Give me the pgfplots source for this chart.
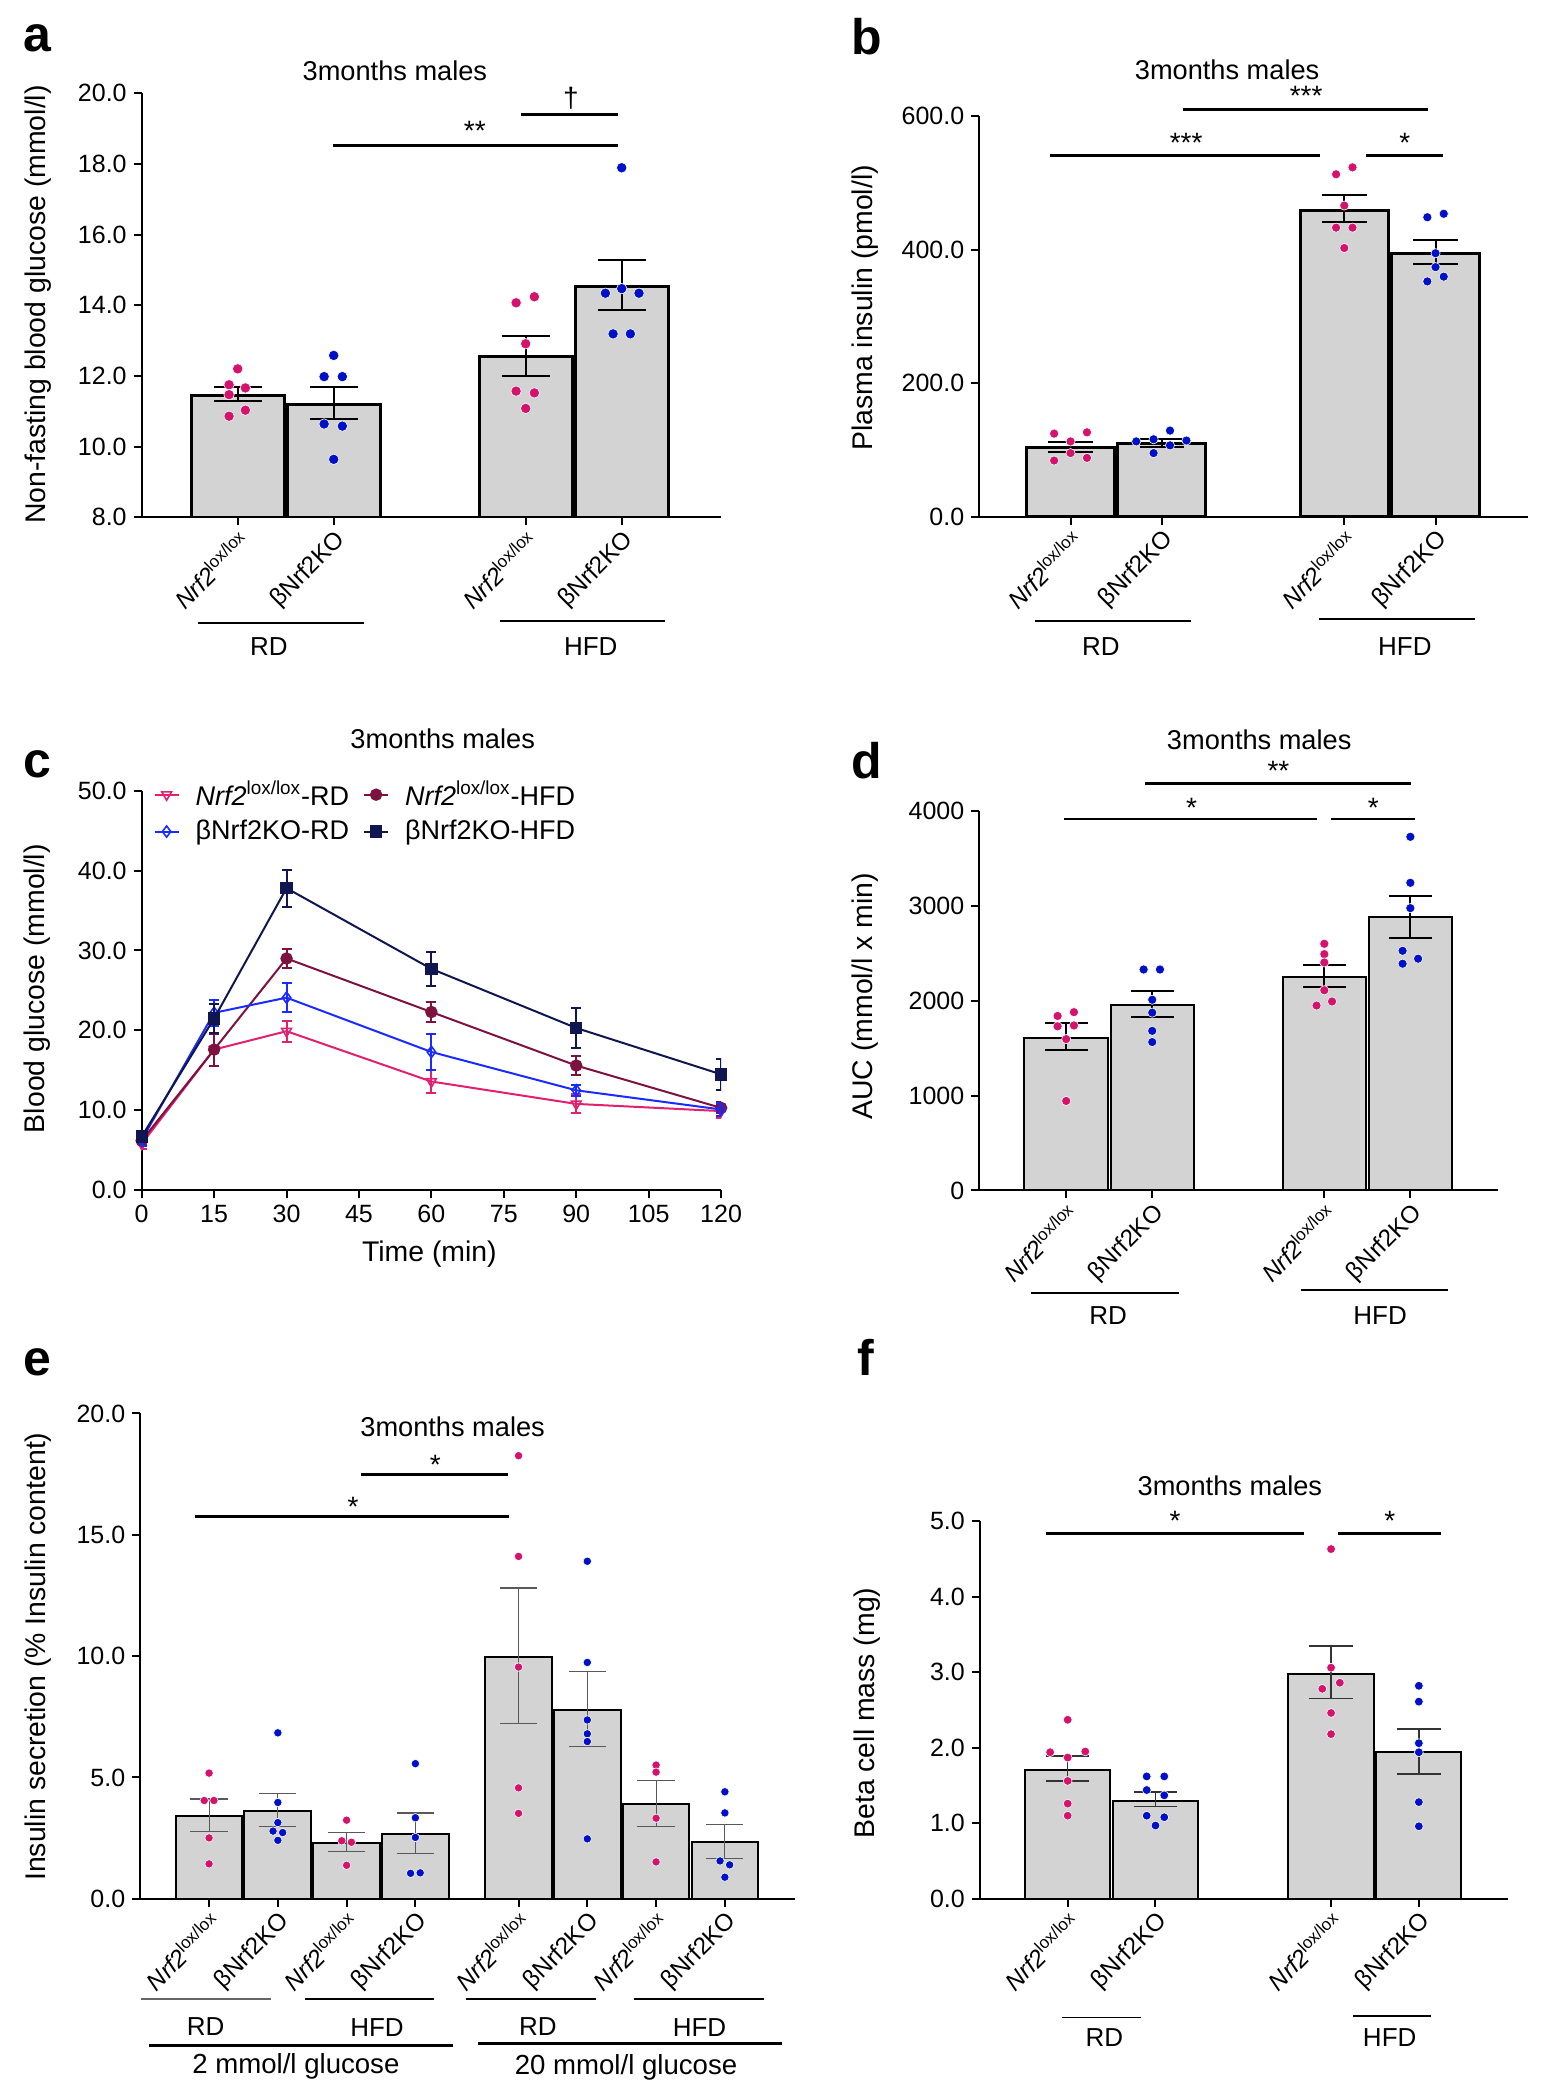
\documentclass[border=0pt]{standalone}
\usepackage{pgfplots}
\pgfplotsset{compat=1.18}
\usepackage{fontspec}
\setmainfont{Liberation Sans}
\definecolor{pinkdot}{HTML}{D5126C}
\definecolor{bluedot}{HTML}{0010C8}
\definecolor{barfill}{HTML}{D3D3D3}
\definecolor{cpink}{HTML}{E2206F}
\definecolor{cblue}{HTML}{1A2BFF}
\definecolor{cmaroon}{HTML}{7D1240}
\definecolor{cnavy}{HTML}{0F1650}
\newcommand{\ft}[1]{\fontsize{#1}{#1}\selectfont}
\newcommand{\nrf}{\textit{Nrf2}\textsuperscript{lox/lox}}
\newcommand{\ko}{βNrf2KO}
\pgfplotsset{
  panel/.style={
    scale only axis, anchor=south west,
    axis x line*=bottom, axis y line*=left,
    axis line style={line width=1pt, black},
    every tick/.style={black, line width=1pt},
    tick align=outside, major tick length=4pt,
    clip mode=individual,
    /pgf/number format/assume math mode=true,
    yticklabel style={font=\ft{12.5}},
    xticklabel style={font=\ft{12.5}},
  },
  catx/.style={xticklabel style={rotate=45, anchor=north east, font=\ft{12.1}, inner sep=1pt}},
  onedec/.style={yticklabel style={/pgf/number format/fixed, /pgf/number format/fixed zerofill, /pgf/number format/precision=1}},
  dots/.style={only marks, mark=*, mark size=#1, mark options={draw=white, line width=0.3pt}},
}
\begin{document}
\begin{tikzpicture}
\path[use as bounding box] (0,0) rectangle (774pt,1050pt);

% ---------------- panel a
\begin{axis}[panel, onedec, catx, at={(70.85pt,791.35pt)}, width=289.45pt, height=212.05pt,
  xmin=-1, xmax=5.03, ymin=8, ymax=20, ytick={8,10,...,20},
  xtick={0,1,3,4}, xticklabels={\nrf,\ko,\nrf,\ko}]
\addplot[ybar, bar shift=0pt, bar width=0.965, fill=barfill, draw=black, line width=1.5pt,
  error bars/.cd, y dir=both, y explicit,
  error bar style={line width=1pt, black, solid},
  error mark options={rotate=90, black, mark size=12.1pt, line width=1pt}]
coordinates {(0,11.45) += (0,0.24) -= (0,0.16) (1,11.19) += (0,0.50) -= (0,0.42)
  (3,12.54) += (0,0.59) -= (0,0.53) (4,14.54) += (0,0.74) -= (0,0.67)};
\addplot[dots=2.6pt, pinkdot] coordinates {
  (-0.09,11.75) (0.08,11.66) (-0.09,11.47) (0,12.2) (-0.09,10.86) (0.08,11.03)
  (2.90,14.07) (3.09,14.24) (3,12.91) (2.90,11.57) (3.09,11.52) (3,11.08)};
\addplot[dots=2.6pt, bluedot] coordinates {
  (1,12.58) (0.90,11.98) (1.09,11.98) (0.90,10.64) (1.09,10.58) (1,9.64)
  (4,17.89) (3.83,14.34) (4,14.47) (4.18,14.34) (3.91,13.19) (4.09,13.19)};
\end{axis}

% ---------------- panel b
\begin{axis}[panel, onedec, catx, at={(489.65pt,791.55pt)}, width=274.2pt, height=200.35pt,
  xmin=-1, xmax=5.01, ymin=0, ymax=600, ytick={0,200,400,600},
  xtick={0,1,3,4}, xticklabels={\nrf,\ko,\nrf,\ko}]
\addplot[ybar, bar shift=0pt, bar width=0.965, fill=barfill, draw=black, line width=1.5pt,
  error bars/.cd, y dir=both, y explicit,
  error bar style={line width=1pt, black, solid},
  error mark options={rotate=90, black, mark size=11.1pt, line width=1pt}]
coordinates {(0,103.2) += (0,9.1) -= (0,5.8) (1,110.4) += (0,5.8) -= (0,5.5)
  (3,459) += (0,22.8) -= (0,16.8) (4,394.8) += (0,20.2) -= (0,15.6)};
\addplot[dots=2.3pt, pinkdot] coordinates {
  (-0.18,124.7) (0.18,126.6) (0,113) (-0.18,84.4) (0.18,88.3) (0,95.5)
  (2.91,513) (3.09,523.4) (3,466.2) (2.91,433.1) (3.09,433.1) (3,402.6)};
\addplot[dots=2.3pt, bluedot] coordinates {
  (0.72,113) (0.91,116.2) (1.09,129.2) (1.27,114.3) (1.09,107.1) (0.91,95.5)
  (3.91,448.7) (4.09,453.9) (4,394.8) (4,374) (3.91,352.6) (4.09,359.7)};
\end{axis}

% ---------------- panel c
\begin{axis}[panel, onedec, at={(70.85pt,454.9pt)}, width=289.7pt, height=199.75pt,
  xmin=0, xmax=120, ymin=0, ymax=50, xtick={0,15,...,120}, ytick={0,10,...,50},
  legend columns=2, legend cell align=left,
  legend style={at={(0.02,1.035)}, anchor=north west, draw=none, fill=none, font=\ft{13.5},
    inner sep=0pt, row sep=2pt,
    /tikz/every odd column/.append style={column sep=6pt},
    /tikz/every even column/.append style={column sep=5pt}},
  legend image code/.code={\draw[mark repeat=2, mark phase=2] plot coordinates {(0cm,0cm) (0.21cm,0cm) (0.42cm,0cm)};}]
\addplot[cpink, line width=1pt, mark=triangle, mark size=2.8pt, mark options={rotate=180, fill=white, solid, line width=0.8pt},
  error bars/.cd, y dir=both, y explicit, error bar style={line width=1pt, cpink},
  error mark options={rotate=90, cpink, mark size=2.5pt, line width=1pt}]
coordinates {(0,5.8) +- (0,0.7) (15,17.6) +- (0,2.0) (30,19.9) +- (0,1.3) (60,13.6) +- (0,1.4) (90,10.8) +- (0,1.2) (120,9.9) +- (0,0.9)};
\addlegendentry{\nrf-RD}
\addplot[cmaroon, line width=1pt, mark=*, mark size=2.6pt, mark options={solid},
  error bars/.cd, y dir=both, y explicit, error bar style={line width=1pt, cmaroon},
  error mark options={rotate=90, cmaroon, mark size=2.5pt, line width=1pt}]
coordinates {(0,6.2) +- (0,0.6) (15,17.6) +- (0,2.0) (30,29.0) +- (0,1.2) (60,22.3) +- (0,1.2) (90,15.6) +- (0,1.2) (120,10.3) +- (0,0.7)};
\addlegendentry{\nrf-HFD}
\addplot[cblue, line width=1pt, mark=diamond, mark size=2.8pt, mark options={fill=white, solid, line width=0.8pt},
  error bars/.cd, y dir=both, y explicit, error bar style={line width=1pt, cblue},
  error mark options={rotate=90, cblue, mark size=2.5pt, line width=1pt}]
coordinates {(0,6.3) +- (0,0.8) (15,22.2) +- (0,1.6) (30,24.1) +- (0,1.8) (60,17.3) +- (0,2.3) (90,12.5) +- (0,0.7) (120,10.1) +- (0,0.8)};
\addlegendentry{\ko-RD}
\addplot[cnavy, line width=1pt, mark=square*, mark size=2.6pt, mark options={solid},
  error bars/.cd, y dir=both, y explicit, error bar style={line width=1pt, cnavy},
  error mark options={rotate=90, cnavy, mark size=2.5pt, line width=1pt}]
coordinates {(0,6.7) +- (0,0.6) (15,21.5) +- (0,1.8) (30,37.8) +- (0,2.3) (60,27.7) +- (0,2.1) (90,20.3) +- (0,2.5) (120,14.5) +- (0,1.9)};
\addlegendentry{\ko-HFD}
\end{axis}

% ---------------- panel d
\begin{axis}[panel, catx, at={(489.65pt,454.75pt)}, width=259.4pt, height=189.7pt,
  yticklabel style={/pgf/number format/fixed, /pgf/number format/1000 sep={}},
  xmin=-1.01, xmax=5.02, ymin=0, ymax=4000, ytick={0,1000,...,4000},
  xtick={0,1,3,4}, xticklabels={\nrf,\ko,\nrf,\ko}]
\addplot[ybar, bar shift=0pt, bar width=0.97, fill=barfill, draw=black, line width=1pt,
  error bars/.cd, y dir=both, y explicit,
  error bar style={line width=1pt, black, solid},
  error mark options={rotate=90, black, mark size=10.7pt, line width=1pt}]
coordinates {(0,1613) += (0,153) -= (0,135) (1,1954) += (0,144) -= (0,122)
  (3,2251) += (0,123) -= (0,105) (4,2881) += (0,227) -= (0,214)};
\addplot[dots=2.3pt, pinkdot] coordinates {
  (-0.1,1840) (0.09,1880) (-0.1,1731) (0.09,1740) (0,1596) (0,944)
  (3,2601) (3,2492) (3,2404) (3,2111) (2.91,1950) (3.09,1993)};
\addplot[dots=2.3pt, bluedot] coordinates {
  (0.9,2330) (1.09,2330) (1,2011) (1,1875) (1,1683) (1,1565)
  (4,3729) (4,3244) (4,2977) (3.91,2527) (4.09,2444) (3.91,2391)};
\end{axis}

% ---------------- panel e
\begin{axis}[panel, onedec, catx, at={(70.15pt,100.6pt)}, width=327.35pt, height=242.65pt,
  xmin=-1, xmax=8.52, ymin=0, ymax=20, ytick={0,5,...,20},
  xtick={0,1,2,3,4.5,5.5,6.5,7.5}, xticklabels={\nrf,\ko,\nrf,\ko,\nrf,\ko,\nrf,\ko}]
\addplot[ybar, bar shift=0pt, bar width=0.97, fill=barfill, draw=black, line width=1pt,
  error bars/.cd, y dir=both, y explicit,
  error bar style={line width=0.5pt, black!65},
  error mark options={rotate=90, black!65, mark size=9.3pt, line width=0.6pt}]
coordinates {(0,3.40) += (0,0.71) -= (0,0.61) (1,3.60) += (0,0.73) -= (0,0.62)
  (2,2.31) += (0,0.42) -= (0,0.35) (3,2.69) += (0,0.85) -= (0,0.83)
  (4.5,9.98) += (0,2.83) -= (0,2.75) (5.5,7.77) += (0,1.60) -= (0,1.51)
  (6.5,3.89) += (0,0.97) -= (0,0.91) (7.5,2.33) += (0,0.73) -= (0,0.67)};
\addplot[dots=2.1pt, pinkdot] coordinates {
  (0,5.18) (-0.07,4.05) (0.07,4.05) (0,2.51) (0,1.44)
  (2,3.24) (1.93,2.39) (2.07,2.33) (2,1.38)
  (4.5,18.26) (4.5,14.11) (4.5,9.55) (4.5,4.57) (4.5,3.52)
  (6.5,5.51) (6.5,5.22) (6.5,3.32) (6.5,1.52)};
\addplot[dots=2.1pt, bluedot] coordinates {
  (1,6.84) (1,3.97) (1,3.14) (0.93,2.79) (1.07,2.73) (1,2.41)
  (3,5.57) (3,3.34) (3,2.53) (2.93,1.05) (3.07,1.07)
  (5.5,13.91) (5.5,9.74) (5.5,7.37) (5.5,6.80) (5.5,6.48) (5.5,2.47)
  (7.5,4.41) (7.5,3.54) (7.43,1.56) (7.57,1.40) (7.5,0.89)};
\end{axis}

% ---------------- panel f
\begin{axis}[panel, onedec, catx, at={(489.95pt,100.6pt)}, width=263.8pt, height=188.85pt,
  xmin=-1, xmax=5.01, ymin=0, ymax=5, ytick={0,1,...,5},
  xtick={0,1,3,4}, xticklabels={\nrf,\ko,\nrf,\ko}]
\addplot[ybar, bar shift=0pt, bar width=0.97, fill=barfill, draw=black, line width=1pt,
  error bars/.cd, y dir=both, y explicit,
  error bar style={line width=0.8pt, black!80},
  error mark options={rotate=90, black!80, mark size=10.9pt, line width=0.8pt}]
coordinates {(0,1.71) += (0,0.18) -= (0,0.15) (1,1.30) += (0,0.11) -= (0,0.08)
  (3,2.98) += (0,0.37) -= (0,0.33) (4,1.94) += (0,0.31) -= (0,0.29)};
\addplot[dots=2.2pt, pinkdot] coordinates {
  (0,2.37) (-0.2,1.94) (0.2,1.95) (0,1.87) (0,1.56) (0,1.26) (0,1.10)
  (3,4.63) (3,3.06) (2.9,2.78) (3.1,2.86) (3,2.46) (3,2.18)};
\addplot[dots=2.2pt, bluedot] coordinates {
  (0.9,1.62) (1.1,1.62) (0.9,1.44) (1.1,1.37) (0.9,1.10) (1.1,1.08) (1,0.97)
  (4,2.82) (4,2.61) (4,2.06) (4,1.94) (4,1.28) (4,0.96)};
\end{axis}

% ---------------- annotations (pixel coordinates of the 1548x2100 reference)
\begin{scope}[x=0.5pt, y=-0.5pt, shift={(0pt,1050pt)}]
\tikzset{sig/.style={anchor=base, font=\ft{14}, inner sep=0pt},
  letter/.style={anchor=base, font=\ft{25}\bfseries, inner sep=0pt},
  ttl/.style={anchor=center, font=\ft{13.6}, inner sep=0pt},
  ylab/.style={anchor=center, rotate=90, font=\ft{14.2}, inner sep=0pt},
  grp/.style={anchor=center, font=\ft{13}, inner sep=0pt}}
% panel a
\node[letter] at (37,52) {a};
\node[ttl] at (394.9,70.7) {3months males};
\node[ylab] at (38.5,304.6) {Non-fasting blood glucose (mmol/l)};
\draw[line width=1.5pt] (333.2,145.7) -- (618,145.7);
\draw[line width=1.5pt] (520.7,114.5) -- (618,114.5);
\node[sig] at (474.8,141) {**};
\node[sig] at (571,108) {†};
\draw[line width=1pt] (198.4,622.7) -- (363.8,622.7);
\draw[line width=1pt] (499.5,620.6) -- (664.9,620.6);
\node[grp] at (269,646.1) {RD};
\node[grp] at (590.8,646.1) {HFD};
% panel b
\node[letter] at (866.3,54.2) {b};
\node[ttl] at (1227.1,69.4) {3months males};
\node[ylab] at (865.3,307.9) {Plasma insulin (pmol/l)};
\draw[line width=1.5pt] (1182.7,109.3) -- (1428,109.3);
\draw[line width=1.5pt] (1050.4,155.2) -- (1320.4,155.2);
\draw[line width=1.5pt] (1366.3,155.2) -- (1442.8,155.2);
\node[sig] at (1306.1,106) {***};
\node[sig] at (1186.1,153) {***};
\node[sig] at (1404.8,153) {*};
\draw[line width=1pt] (1034.6,621.4) -- (1191.1,621.4);
\draw[line width=1pt] (1318.9,619.3) -- (1474.9,619.3);
\node[grp] at (1100.8,647) {RD};
\node[grp] at (1404.8,647) {HFD};
% panel c
\node[letter] at (37,777.7) {c};
\node[ttl] at (442.7,738.3) {3months males};
\node[ylab] at (37,988.6) {Blood glucose (mmol/l)};
\node[anchor=center, font=\ft{14.2}, inner sep=0pt] at (429.4,1253.8) {Time (min)};
% panel d
\node[letter] at (866.3,778.8) {d};
\node[ttl] at (1259.2,739.4) {3months males};
\node[ylab] at (865.3,996.4) {AUC (mmol/l x min)};
\draw[line width=1.3pt] (1144.7,783.7) -- (1411.2,783.7);
\draw[line width=1.3pt] (1064.2,819) -- (1316.9,819);
\draw[line width=1.3pt] (1330.8,819) -- (1414.7,819);
\node[sig] at (1278.4,781) {**};
\node[sig] at (1191.6,817.5) {*};
\node[sig] at (1373.2,817.5) {*};
\draw[line width=1pt] (1031.2,1292.9) -- (1178.7,1292.9);
\draw[line width=1pt] (1300.7,1290.4) -- (1447.7,1290.4);
\node[grp] at (1108.1,1315.7) {RD};
\node[grp] at (1380.1,1315.7) {HFD};
% panel e
\node[letter] at (37.2,1375.2) {e};
\node[ttl] at (452.6,1427.2) {3months males};
\node[ylab] at (38.3,1656.7) {Insulin secretion (\% Insulin content)};
\draw[line width=1.3pt] (361.2,1474.4) -- (508.2,1474.4);
\draw[line width=1.3pt] (195.4,1516.6) -- (509.2,1516.6);
\node[sig] at (435.2,1475) {*};
\node[sig] at (353.1,1517) {*};
\draw[line width=0.8pt, black!60] (141.3,1998.9) -- (270.9,1998.9);
\draw[line width=0.8pt] (304.6,1999.3) -- (434.2,1999.3);
\draw[line width=0.8pt] (466.3,1998.9) -- (595.9,1998.9);
\draw[line width=0.8pt] (634.2,1999.3) -- (763.8,1999.3);
\node[grp] at (205.6,2026.5) {RD};
\node[grp] at (377,2027.4) {HFD};
\node[grp] at (537.8,2026.5) {RD};
\node[grp] at (699.5,2027.4) {HFD};
\draw[line width=1.5pt] (149,2045.1) -- (452.6,2045.1);
\draw[line width=1.5pt] (478.1,2043.7) -- (782.1,2043.7);
\node[anchor=center, font=\ft{13.8}, inner sep=0pt] at (295.9,2066.7) {2 mmol/l glucose};
\node[anchor=center, font=\ft{13.8}, inner sep=0pt] at (626,2067.7) {20 mmol/l glucose};
% panel f
\node[letter] at (865.8,1375.2) {f};
\node[ttl] at (1229.9,1486.2) {3months males};
\node[ylab] at (866.8,1713.1) {Beta cell mass (mg)};
\draw[line width=1.3pt] (1045.7,1533.3) -- (1304.3,1533.3);
\draw[line width=1.3pt] (1338.2,1533.3) -- (1440.7,1533.3);
\node[sig] at (1175,1531) {*};
\node[sig] at (1389.7,1531) {*};
\draw[line width=0.7pt] (1061.5,2017.6) -- (1140.6,2017.6);
\draw[line width=0.7pt] (1352.5,2016.2) -- (1431.2,2016.2);
\node[grp] at (1104.4,2037.3) {RD};
\node[grp] at (1389.7,2037.3) {HFD};
\end{scope}
\end{tikzpicture}
\end{document}
